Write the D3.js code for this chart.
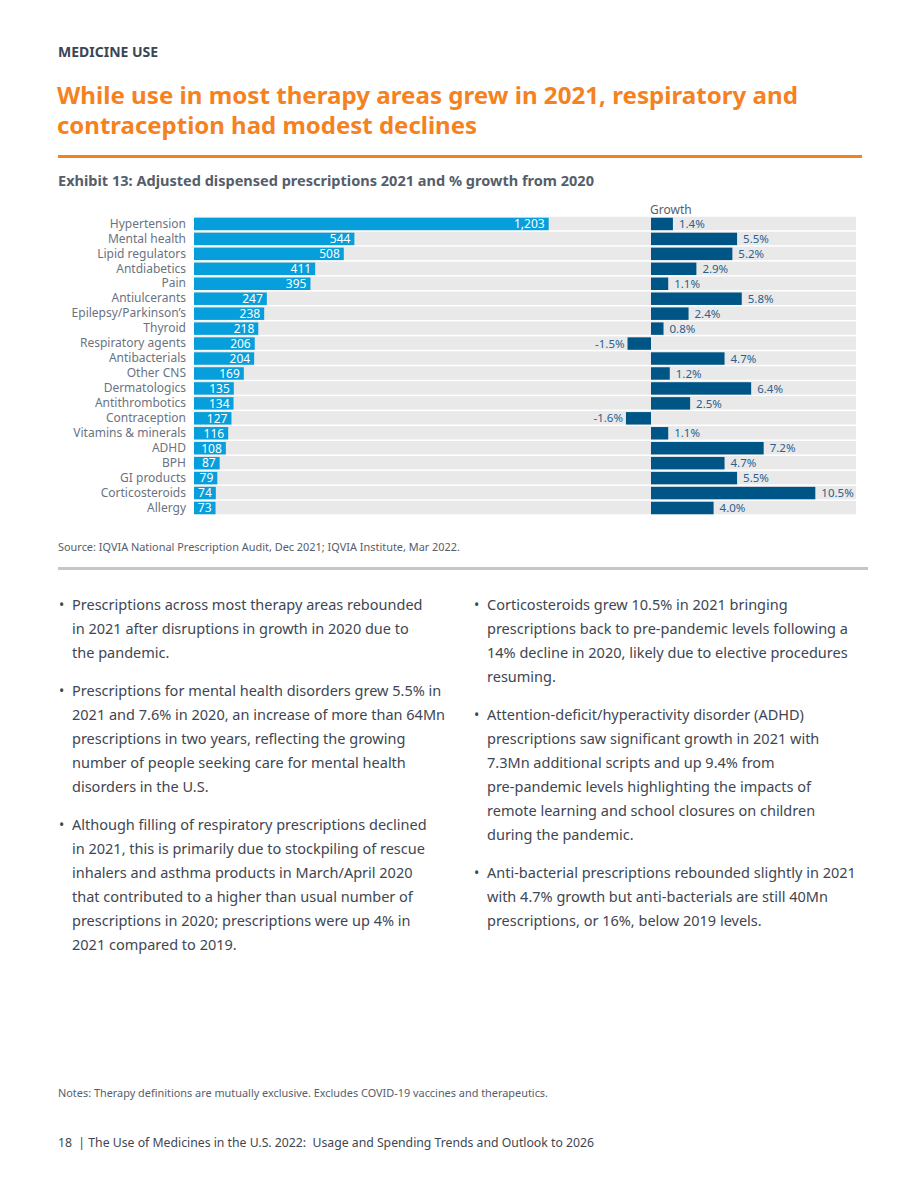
<!DOCTYPE html>
<html>
<head>
<meta charset="utf-8">
<script src="https://cdn.jsdelivr.net/npm/d3@7"></script>
<style>
  body { margin: 0; background: #fff; }
  svg text { font-family: "Noto Sans", "Open Sans", sans-serif; }
</style>
</head>
<body>
<div id="page"></div>
<script>
// therapy areas, top to bottom
var categories = ["Hypertension", "Mental health", "Lipid regulators", "Antdiabetics", "Pain",
  "Antiulcerants", "Epilepsy/Parkinson\u2019s", "Thyroid", "Respiratory agents", "Antibacterials",
  "Other CNS", "Dermatologics", "Antithrombotics", "Contraception", "Vitamins & minerals",
  "ADHD", "BPH", "GI products", "Corticosteroids", "Allergy"];
// adjusted dispensed prescriptions 2021 (Mn)
var prescriptions = [1203, 544, 508, 411, 395, 247, 238, 218, 206, 204,
  169, 135, 134, 127, 116, 108, 87, 79, 74, 73];
// % growth from 2020
var growth = [1.4, 5.5, 5.2, 2.9, 1.1, 5.8, 2.4, 0.8, -1.5, 4.7,
  1.2, 6.4, 2.5, -1.6, 1.1, 7.2, 4.7, 5.5, 10.5, 4.0];

var leftBullets = [
  ["Prescriptions across most therapy areas rebounded", "in 2021 after disruptions in growth in 2020 due to", "the pandemic."],
  ["Prescriptions for mental health disorders grew 5.5% in", "2021 and 7.6% in 2020, an increase of more than 64Mn",
   "prescriptions in two years, reflecting the growing", "number of people seeking care for mental health", "disorders in the U.S."],
  ["Although filling of respiratory prescriptions declined", "in 2021, this is primarily due to stockpiling of rescue",
   "inhalers and asthma products in March/April 2020", "that contributed to a higher than usual number of",
   "prescriptions in 2020; prescriptions were up 4% in", "2021 compared to 2019."]
];
var rightBullets = [
  ["Corticosteroids grew 10.5% in 2021 bringing", "prescriptions back to pre-pandemic levels following a",
   "14% decline in 2020, likely due to elective procedures", "resuming."],
  ["Attention-deficit/hyperactivity disorder (ADHD)", "prescriptions saw significant growth in 2021 with",
   "7.3Mn additional scripts and up 9.4% from", "pre-pandemic levels highlighting the impacts of",
   "remote learning and school closures on children", "during the pandemic."],
  ["Anti-bacterial prescriptions rebounded slightly in 2021", "with 4.7% growth but anti-bacterials are still 40Mn",
   "prescriptions, or 16%, below 2019 levels."]
];

var W = 920, H = 1191;
var svg = d3.select("#page").append("svg")
  .attr("width", W).attr("height", H);

var textGray = "#3e4652";

// header
svg.append("text").attr("x", 58).attr("y", 57)
  .attr("font-size", 14).attr("font-weight", "bold").attr("fill", "#3b4553")
  .text("MEDICINE USE");

svg.append("text").attr("x", 57).attr("y", 104)
  .attr("font-size", 24).attr("font-weight", "bold").attr("fill", "#f5821f")
  .attr("textLength", 741).attr("lengthAdjust", "spacingAndGlyphs")
  .text("While use in most therapy areas grew in 2021, respiratory and");
svg.append("text").attr("x", 57).attr("y", 134)
  .attr("font-size", 24).attr("font-weight", "bold").attr("fill", "#f5821f")
  .attr("textLength", 420).attr("lengthAdjust", "spacingAndGlyphs")
  .text("contraception had modest declines");

svg.append("rect").attr("x", 58).attr("y", 155).attr("width", 804).attr("height", 3).attr("fill", "#f5821f");

svg.append("text").attr("x", 58).attr("y", 186)
  .attr("font-size", 13.5).attr("font-weight", "bold").attr("fill", "#555e6a")
  .attr("textLength", 536).attr("lengthAdjust", "spacingAndGlyphs")
  .text("Exhibit 13: Adjusted dispensed prescriptions 2021 and % growth from 2020");

// chart scales
var y = d3.scaleBand().domain(categories).range([216, 515]).paddingInner(0.1).paddingOuter(0.05);
var xL = d3.scaleLinear().domain([0, 1550]).range([194, 651]);
var xG = d3.scaleLinear().domain([0, 13.1]).range([651, 856]);

var chart = svg.append("g").attr("class", "chart");

// gray row bands
chart.selectAll("rect.band").data(categories).enter().append("rect")
  .attr("class", "band")
  .attr("x", xL(0)).attr("width", xG(13.1) - xL(0))
  .attr("y", function(d){ return y(d); })
  .attr("height", y.bandwidth())
  .attr("fill", "#e9e9e9");

// category labels
chart.selectAll("text.cat").data(categories).enter().append("text")
  .attr("class", "cat")
  .attr("x", 186).attr("y", function(d){ return y(d) + y.bandwidth() / 2; })
  .attr("dy", ".35em").attr("text-anchor", "end")
  .attr("font-size", 12).attr("fill", "#6b7380")
  .text(function(d){ return d; });

// prescriptions bars
chart.selectAll("rect.rx").data(prescriptions).enter().append("rect")
  .attr("class", "rx")
  .attr("x", xL(0))
  .attr("y", function(d, i){ return y(categories[i]) + 1; })
  .attr("width", function(d){ return xL(d) - xL(0); })
  .attr("height", y.bandwidth() - 1)
  .attr("fill", "#069fdb");

chart.selectAll("text.rx").data(prescriptions).enter().append("text")
  .attr("class", "rx")
  .attr("x", function(d){ return xL(d) - 4; })
  .attr("y", function(d, i){ return y(categories[i]) + y.bandwidth() / 2 + 0.5; })
  .attr("dy", ".36em").attr("text-anchor", "end")
  .attr("font-size", 12).attr("fill", "#fff")
  .text(function(d){ return d3.format(",")(d); });

// growth bars
chart.selectAll("rect.gr").data(growth).enter().append("rect")
  .attr("class", "gr")
  .attr("x", function(d){ return Math.min(xG(0), xG(d)); })
  .attr("y", function(d, i){ return y(categories[i]) + 1; })
  .attr("width", function(d){ return Math.abs(xG(d) - xG(0)); })
  .attr("height", y.bandwidth() - 1)
  .attr("fill", "#005587");

chart.selectAll("text.gr").data(growth).enter().append("text")
  .attr("class", "gr")
  .attr("x", function(d){ return d < 0 ? xG(d) - 3 : xG(d) + 6; })
  .attr("y", function(d, i){ return y(categories[i]) + y.bandwidth() / 2 + 0.5; })
  .attr("dy", ".36em")
  .attr("text-anchor", function(d){ return d < 0 ? "end" : "start"; })
  .attr("font-size", 11.5).attr("fill", "#2a5f8e")
  .text(function(d){ return d.toFixed(1) + "%"; });

svg.append("text").attr("x", xG(0) - 1).attr("y", 214)
  .attr("font-size", 12).attr("fill", "#555e6a")
  .text("Growth");

// source + divider
svg.append("text").attr("x", 58).attr("y", 551)
  .attr("font-size", 10.5).attr("fill", "#555e6a")
  .attr("textLength", 402).attr("lengthAdjust", "spacingAndGlyphs")
  .text("Source: IQVIA National Prescription Audit, Dec 2021; IQVIA Institute, Mar 2022.");
svg.append("rect").attr("x", 58).attr("y", 567).attr("width", 810).attr("height", 3).attr("fill", "#c4c6cc");

// bullet columns
function drawBullets(list, xb, xt, y0) {
  var yy = y0;
  list.forEach(function(para){
    svg.append("text").attr("x", xb).attr("y", yy)
      .attr("font-size", 14).attr("fill", textGray).text("\u2022");
    para.forEach(function(line){
      svg.append("text").attr("x", xt).attr("y", yy)
        .attr("font-size", 14.5).attr("fill", textGray).text(line);
      yy += 24;
    });
    yy += 14;
  });
}
drawBullets(leftBullets, 59, 72, 610);
drawBullets(rightBullets, 474, 487, 610);

// notes + footer
svg.append("text").attr("x", 58).attr("y", 1097)
  .attr("font-size", 10.5).attr("fill", "#555e6a")
  .attr("textLength", 490).attr("lengthAdjust", "spacingAndGlyphs")
  .text("Notes: Therapy definitions are mutually exclusive. Excludes COVID-19 vaccines and therapeutics.");
svg.append("text").attr("x", 58).attr("y", 1147)
  .attr("font-size", 12.5).attr("fill", textGray)
  .attr("xml:space", "preserve")
  .attr("textLength", 536).attr("lengthAdjust", "spacingAndGlyphs")
  .text("18  | The Use of Medicines in the U.S. 2022:  Usage and Spending Trends and Outlook to 2026");
</script>
</body>
</html>
